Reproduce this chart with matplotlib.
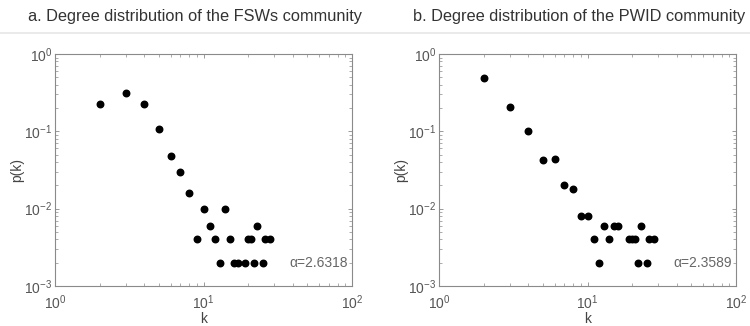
import matplotlib.pyplot as plt
from matplotlib.ticker import LogLocator, NullFormatter
from matplotlib.lines import Line2D

plt.rcParams['font.family'] = ['Liberation Sans', 'DejaVu Sans']
plt.rcParams['mathtext.fontset'] = 'custom'
plt.rcParams['mathtext.rm'] = 'Liberation Sans'

# a. FSWs community
k_fsw = [2, 3, 4, 5, 6, 7, 8, 9, 10, 11, 12, 13, 14, 15, 16, 17, 19, 20, 21, 22, 23, 25, 26, 28]
p_fsw = [0.223, 0.31, 0.223, 0.106, 0.048, 0.030, 0.016, 0.004, 0.01, 0.006, 0.004, 0.002,
         0.01, 0.004, 0.002, 0.002, 0.002, 0.004, 0.004, 0.002, 0.006, 0.002, 0.004, 0.004]
alpha_fsw = "2.6318"

# b. PWID community
k_pwid = [2, 3, 4, 5, 6, 7, 8, 9, 10, 11, 12, 13, 14, 15, 16, 19, 20, 21, 22, 23, 25, 26, 28]
p_pwid = [0.496, 0.206, 0.102, 0.042, 0.044, 0.020, 0.018, 0.008, 0.008, 0.004, 0.002, 0.006,
          0.004, 0.006, 0.006, 0.004, 0.004, 0.004, 0.002, 0.006, 0.002, 0.004, 0.004]
alpha_pwid = "2.3589"

titles = ["a. Degree distribution of the FSWs community",
          "b. Degree distribution of the PWID community"]

fig = plt.figure(figsize=(7.5, 3.26), dpi=100)
W, H = 750, 326
boxes = [(55, 54, 352, 286), (439, 54, 736, 286)]
title_x = [28, 413]
grey = '#8a8a8a'

fig.add_artist(Line2D([0, 1], [1 - 33 / H, 1 - 33 / H], color='#e6e6e6', lw=1.2))

for i, (k, p, a) in enumerate([(k_fsw, p_fsw, alpha_fsw), (k_pwid, p_pwid, alpha_pwid)]):
    x0, y0, x1, y1 = boxes[i]
    ax = fig.add_axes([x0 / W, 1 - y1 / H, (x1 - x0) / W, (y1 - y0) / H])
    ax.scatter(k, p, s=22, color='black', zorder=3)
    ax.set_xscale('log')
    ax.set_yscale('log')
    ax.set_xlim(1, 100)
    ax.set_ylim(1e-3, 1)
    ax.xaxis.set_major_locator(LogLocator(base=10, numticks=5))
    ax.yaxis.set_major_locator(LogLocator(base=10, numticks=5))
    ax.xaxis.set_minor_locator(LogLocator(base=10, subs=range(2, 10), numticks=10))
    ax.yaxis.set_minor_locator(LogLocator(base=10, subs=range(2, 10), numticks=10))
    ax.xaxis.set_minor_formatter(NullFormatter())
    ax.yaxis.set_minor_formatter(NullFormatter())
    ax.tick_params(which='both', direction='in', top=True, right=True, colors=grey,
                   labelcolor='#555555', labelsize=10)
    ax.tick_params(which='major', length=3, width=0.6)
    ax.tick_params(which='minor', length=2, width=0.5)
    ax.tick_params(axis='x', pad=5)
    ax.tick_params(axis='y', pad=2)
    for s in ax.spines.values():
        s.set_color(grey)
        s.set_linewidth(0.8)
    ax.set_xlabel('k', color='#444444', fontsize=10, labelpad=0)
    ax.set_ylabel('p(k)', color='#444444', fontsize=10, labelpad=0)
    ax.text(0.985, 0.1, '\u03b1=' + a, transform=ax.transAxes, ha='right', va='center',
            color='#666666', fontsize=10)
    fig.text(title_x[i] / W, 1 - 16 / H, titles[i], ha='left', va='center',
             color='#333333', fontsize=11.8)

fig.savefig('out.png', dpi=100)
